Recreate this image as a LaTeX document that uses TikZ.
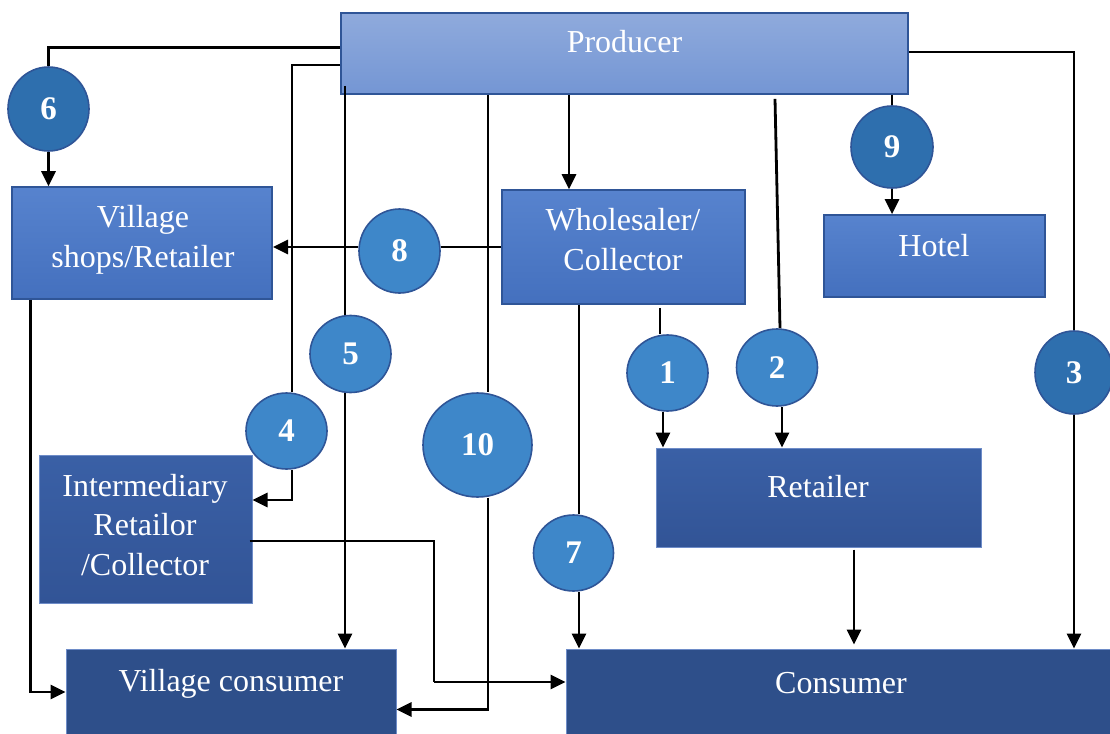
\documentclass[tikz,border=0pt]{standalone}
\usepackage{fontspec}
\setmainfont{Liberation Serif}
\usetikzlibrary{arrows.meta,shapes.geometric,shadings}
\definecolor{prodTop}{RGB}{143,170,220}
\definecolor{prodBot}{RGB}{116,150,212}
\definecolor{midTop}{RGB}{87,131,206}
\definecolor{midBot}{RGB}{68,112,190}
\definecolor{retTop}{RGB}{58,96,166}
\definecolor{retBot}{RGB}{50,84,150}
\definecolor{consFill}{RGB}{46,79,138}
\definecolor{circLight}{RGB}{62,135,201}
\definecolor{circDark}{RGB}{46,111,174}
\definecolor{edge}{RGB}{47,85,151}
\definecolor{softEdge}{RGB}{110,140,200}
\tikzset{
  box/.style={rectangle, inner sep=0pt, draw=edge, line width=1.6pt},
  prodbox/.style={box, top color=prodTop, bottom color=prodBot},
  midbox/.style={box, top color=midTop, bottom color=midBot},
  lowbox/.style={box, draw=softEdge, line width=1pt, top color=retTop, bottom color=retBot},
  consbox/.style={box, draw=softEdge, line width=1pt, fill=consFill},
  txt/.style={text=white, font=\fontsize{32}{39.5}\selectfont, align=center, anchor=base, inner sep=0pt},
  num/.style={ellipse, inner sep=0pt, draw=edge, line width=1.6pt, text=white, font=\fontsize{33}{36}\selectfont\bfseries},
  lightnum/.style={num, fill=circLight},
  darknum/.style={num, fill=circDark},
  ln/.style={line width=2.8pt, draw=black},
  arr/.style={ln, -{Triangle[length=15pt,width=14pt]}}
}
\begin{document}
\begin{tikzpicture}[x=1pt,y=-1pt]
\useasboundingbox (0,0) rectangle (1110,733);
% boxes
\node[prodbox, minimum width=567pt, minimum height=81pt] (prod) at (624.5,53.5) {};
\node[midbox, minimum width=260pt, minimum height=112pt] (vshop) at (142.25,243) {};
\node[midbox, minimum width=243pt, minimum height=114pt] (whole) at (623.5,247) {};
\node[midbox, minimum width=221pt, minimum height=82pt] (hotel) at (934.5,256) {};
\node[lowbox, minimum width=325pt, minimum height=99pt] (ret) at (818.5,497.5) {};
\node[lowbox, minimum width=213pt, minimum height=148pt] (inter) at (145.5,529) {};
\node[consbox, minimum width=330pt, minimum height=92pt] (vcons) at (231,695) {};
\node[consbox, minimum width=548pt, minimum height=92pt] (cons) at (840,695) {};
% texts (anchor = baseline of last line)
\node[txt] (prodT) at (624.5,53) {Producer};
\node[txt] (vshopT) at (143,267) {Village\\shops/Retailer};
\node[txt] (wholeT) at (623,270) {Wholesaler/\\Collector};
\node[txt] (hotelT) at (934,256) {Hotel};
\node[txt] (retT) at (818,497) {Retailer};
\node[txt] (interT) at (145,575) {Intermediary\\Retailor\\/Collector};
\node[txt] (vconsT) at (231,691) {Village consumer};
\node[txt] (consT) at (841,693) {Consumer};
% circles
\node[darknum, minimum width=81pt, minimum height=84pt] (c6) at (48.5,109) {6};
\node[lightnum, minimum width=81pt, minimum height=84pt] (c8) at (399.5,251) {8};
\node[darknum, minimum width=82pt, minimum height=82pt] (c9) at (892,147) {9};
\node[lightnum, minimum width=81pt, minimum height=77pt] (c5) at (350.5,354) {5};
\node[lightnum, minimum width=81pt, minimum height=76pt] (c4) at (286.5,431) {4};
\node[lightnum, minimum width=109pt, minimum height=104pt] (c10) at (477.5,445) {10};
\node[lightnum, minimum width=81pt, minimum height=76pt] (c1) at (667.5,373) {1};
\node[lightnum, minimum width=81pt, minimum height=77pt] (c2) at (777,367.5) {2};
\node[darknum, minimum width=78pt, minimum height=83pt] (c3) at (1074,372.5) {3};
\node[lightnum, minimum width=80pt, minimum height=76pt] (c7) at (573.5,553) {7};
\coordinate (bend) at (434,682);
% connectors
\draw[ln] ([yshift=6pt]prod.west) -| (c6.north);
\draw[arr] (c6.south) -- (c6.south |- vshop.north);
\draw[ln] ([yshift=-11.5pt]prod.west) -| ([xshift=5.5pt]c4.north);
\draw[arr] ([xshift=5.5pt]c4.south) |- ([yshift=29pt]inter.east);
\draw[ln] ([xshift=-5.5pt,yshift=9pt]c5.north |- prod.south) -- ([xshift=-5.5pt]c5.north);
\draw[arr] ([xshift=-5.5pt]c5.south) -- ([xshift=-5.5pt]c5.south |- vcons.north);
\draw[ln] ([xshift=10.5pt]c10.north |- prod.south) -- ([xshift=10.5pt]c10.north);
\draw[arr] ([xshift=10.5pt]c10.south) |- ([yshift=-14.5pt]vcons.east);
\draw[arr] ([xshift=-54.5pt]whole.north |- prod.south) -- ([xshift=-54.5pt]whole.north);
\draw[ln] (whole.west) -- (whole.west -| c8.east);
\draw[arr] (c8.west |- whole.west) -- (vshop.east |- whole.west);
\draw[ln] ([xshift=5.5pt]c7.north |- whole.south) -- ([xshift=5.5pt]c7.north);
\draw[arr] ([xshift=5.5pt]c7.south) -- ([xshift=5.5pt]c7.south |- cons.north);
\draw[ln] ([xshift=-7.5pt,yshift=-3pt]c1.north |- whole.south) -- ([xshift=-7.5pt]c1.north);
\draw[arr] ([xshift=-4.5pt]c1.south) -- ([xshift=-4.5pt]c1.south |- ret.north);
\draw[ln] ([xshift=-2pt,yshift=-4pt]c2.north |- prod.south) -- ([xshift=3pt]c2.north);
\draw[arr] ([xshift=5pt]c2.south) -- ([xshift=5pt]c2.south |- ret.north);
\draw[ln] (c9.north |- prod.south) -- (c9.north);
\draw[arr] (c9.south) -- (c9.south |- hotel.north);
\draw[ln] ([yshift=1.5pt]prod.east) -| (c3.north);
\draw[arr] (c3.south) -- (c3.south |- cons.north);
\draw[arr] ([xshift=35.5pt,yshift=-2pt]ret.south) -- ([xshift=35.5pt,yshift=4pt]ret.south |- cons.north);
\draw[arr] ([xshift=-112pt]vshop.south) |- ([yshift=3pt]vcons.west);
\draw[ln] ([xshift=-3pt,yshift=-12pt]inter.east) -| (bend);
\draw[arr] (bend) -- (bend -| cons.west);
\end{tikzpicture}
\end{document}
